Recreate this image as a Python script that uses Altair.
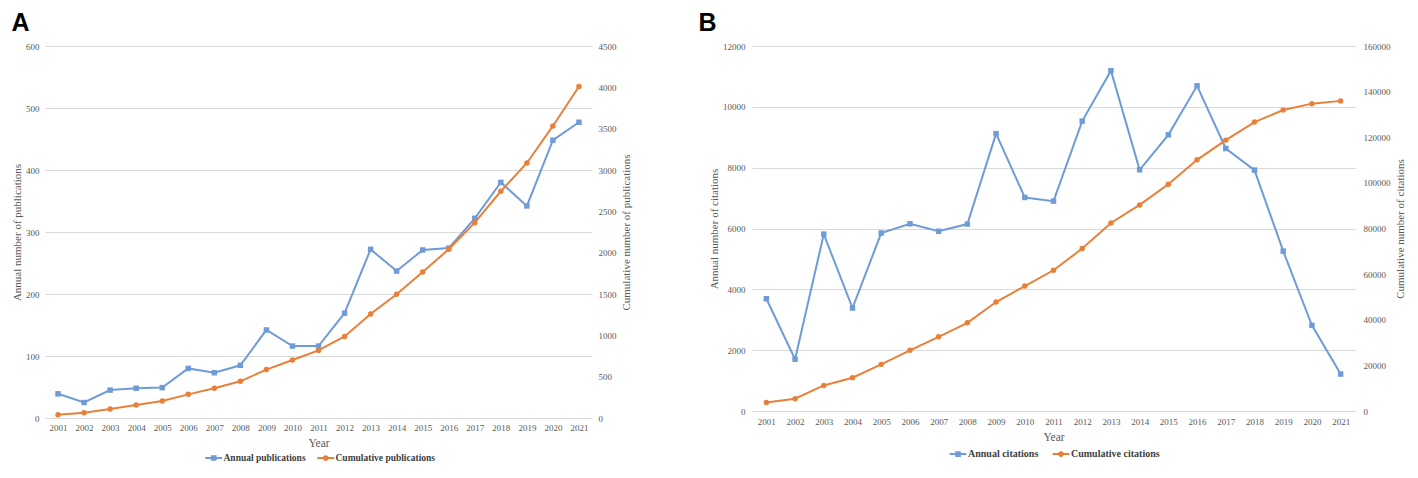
import altair as alt
import pandas as pd

# ---------------- data ----------------
years = ["2001", "2002", "2003", "2004", "2005", "2006", "2007", "2008", "2009", "2010",
         "2011", "2012", "2013", "2014", "2015", "2016", "2017", "2018", "2019", "2020", "2021"]

annual_publications = [39, 25, 45, 48, 49, 80, 73, 85, 142, 116, 116, 169, 272, 237, 271, 274,
                       322, 380, 342, 448, 477]
cumulative_publications = [39, 64, 109, 157, 206, 286, 359, 444, 586, 702, 818, 987, 1259, 1496,
                           1767, 2041, 2363, 2743, 3085, 3533, 4010]

annual_citations = [3690, 1700, 5815, 3385, 5850, 6155, 5910, 6145, 9120, 7020, 6900, 9530,
                    11190, 7930, 9080, 10690, 8630, 7920, 5255, 2815, 1215]
cumulative_citations = [3690, 5390, 11205, 14590, 20440, 26595, 32505, 38650, 47770, 54790,
                        61690, 71220, 82410, 90340, 99420, 110110, 118740, 126660, 131915,
                        134730, 135945]

pub_series = ["Annual publications", "Cumulative publications"]
cit_series = ["Annual citations", "Cumulative citations"]

pub_left_ticks = [0, 100, 200, 300, 400, 500, 600]
pub_right_ticks = [0, 500, 1000, 1500, 2000, 2500, 3000, 3500, 4000, 4500]
cit_left_ticks = [0, 2000, 4000, 6000, 8000, 10000, 12000]
cit_right_ticks = [0, 20000, 40000, 60000, 80000, 100000, 120000, 140000, 160000]

# ---------------- style ----------------
FONT = "Liberation Serif"
GRAY = "#595959"
BLUE = "#6F9BD8"
ORANGE = "#E8803A"
GRID = "#D9D9D9"
PATH_SQUARE = "M-2.8,0H2.8M-0.6,-0.6H0.6V0.6H-0.6Z"
PATH_CIRCLE = "M-2.8,0H2.8M-0.6,0A0.6,0.6,0,1,1,0.6,0A0.6,0.6,0,1,1,-0.6,0Z"


def panel(label, annual, cumulative, series, left_title, right_title,
          lticks, rticks, w, h, lx, ly, title_dx, lpad, rpad, rtpad, xlpad, xtpad,
          leg_font, leg_gap):
    df = pd.DataFrame({"year": years, "annual": annual, "cumulative": cumulative})
    base = alt.Chart(df)
    x = alt.X("year:O", title="Year",
              axis=alt.Axis(labelAngle=0, ticks=False, domain=False, grid=False,
                            labelFont=FONT, labelFontSize=9, labelColor=GRAY,
                            labelPadding=xlpad,
                            titleFont=FONT, titleFontSize=11.5, titleColor=GRAY,
                            titleFontWeight="normal", titlePadding=xtpad))
    yl = alt.Y("annual:Q", title=left_title,
               scale=alt.Scale(domain=[lticks[0], lticks[-1]], nice=False),
               axis=alt.Axis(orient="left", values=lticks, format="d", grid=True,
                             gridColor=GRID, gridWidth=1, ticks=False, domain=False,
                             labelFont=FONT, labelFontSize=9, labelColor=GRAY,
                             labelPadding=lpad, titleFont=FONT, titleFontSize=11,
                             titleColor=GRAY, titleFontWeight="normal", titlePadding=3))
    yr = alt.Y("cumulative:Q", title=right_title,
               scale=alt.Scale(domain=[rticks[0], rticks[-1]], nice=False),
               axis=alt.Axis(orient="right", values=rticks, format="d", grid=False,
                             ticks=False, domain=False, labelFont=FONT, labelFontSize=9,
                             labelColor=GRAY, labelPadding=rpad, titleFont=FONT,
                             titleFontSize=11, titleColor=GRAY, titleFontWeight="normal",
                             titleAngle=-90, titleBaseline="top", titlePadding=rtpad))
    a_line = base.mark_line(color=BLUE, strokeWidth=2).encode(x=x, y=yl)
    a_pts = base.mark_point(shape="square", filled=True, size=30, color=BLUE,
                            opacity=1).encode(x=x, y=yl)
    c_line = base.mark_line(color=ORANGE, strokeWidth=2).encode(x=x, y=yr)
    c_pts = base.mark_point(shape="circle", filled=True, size=30, color=ORANGE,
                            opacity=1).encode(x=x, y=yr)

    leg_cfg = dict(title=None, orient="none", legendX=lx, legendY=ly,
                   direction="horizontal", labelFont=FONT, labelFontSize=leg_font,
                   labelFontWeight="bold", labelColor="#404040", symbolSize=36,
                   symbolStrokeWidth=2, labelOffset=5, columnPadding=leg_gap)
    leg_df = pd.DataFrame({"series": series})
    leg = alt.Chart(leg_df).mark_point(filled=False, strokeWidth=2, opacity=1).encode(
        color=alt.Color("series:N", scale=alt.Scale(domain=series, range=[BLUE, ORANGE]),
                        legend=alt.Legend(**leg_cfg)),
        shape=alt.Shape("series:N",
                        scale=alt.Scale(domain=series, range=[PATH_SQUARE, PATH_CIRCLE]),
                        legend=alt.Legend(**leg_cfg)),
    ).transform_filter("false")

    return alt.layer(alt.layer(a_line, a_pts), alt.layer(c_line, c_pts), leg).resolve_scale(
        y="independent"
    ).properties(
        width=w, height=h,
        title=alt.TitleParams(label, anchor="start", frame="bounds", font="Liberation Sans",
                              fontSize=25, fontWeight="bold", color="black", offset=6,
                              dx=title_dx),
    )


pA = panel("A", annual_publications, cumulative_publications, pub_series,
           "Annual number of publications", "Cumulative number of publications",
           pub_left_ticks, pub_right_ticks, 547, 372, 164, 407, 0, 6, 6, 4, 5, 5, 9.5, 7)
pB = panel("B", annual_citations, cumulative_citations, cit_series,
           "Annual number of citations", "Cumulative number of citations",
           cit_left_ticks, cit_right_ticks, 603, 365, 201, 403, -10, 7, 8, 4, 6, 5, 10, 9)

chart = alt.hconcat(pA, pB, spacing=67).resolve_scale(
    color="independent", shape="independent"
).resolve_legend(
    color="independent", shape="independent"
).properties(
    padding={"left": 3, "top": 3, "right": 0, "bottom": 0},
    background="white",
).configure_view(stroke=None)

chart.save("out.html", embed_options={"renderer": "svg", "actions": False})
